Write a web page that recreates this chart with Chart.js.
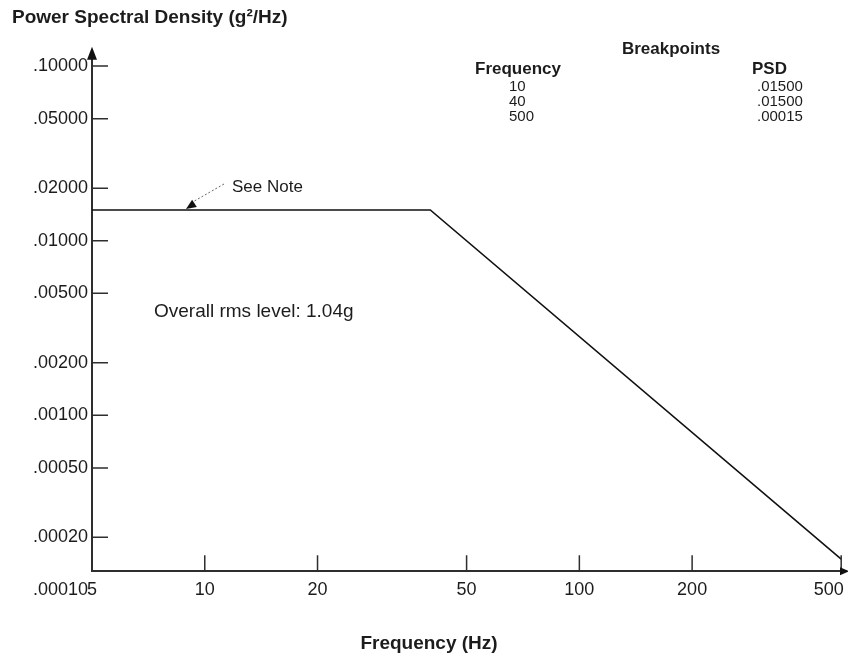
<!DOCTYPE html>
<html>
<head>
<meta charset="utf-8">
<title>Power Spectral Density</title>
<script src="https://cdn.jsdelivr.net/npm/chart.js@4/dist/chart.umd.min.js"></script>
<style>
  body { margin: 0; background: #fff; }
  #wrap { width: 848px; height: 656px; }
</style>
</head>
<body>
<div id="wrap"><canvas id="canvas" width="848" height="656"></canvas></div>
<script>
// spectrum line: starts at the axis (5 Hz), flat to 40 Hz, then rolls off to 500 Hz
const lineFreq = [5, 40, 500];
const linePsd = [0.015, 0.015, 0.00015];

// axis ticks
const xTicks = [5, 10, 20, 50, 100, 200, 500];
const yTicks = [0.1, 0.05, 0.02, 0.01, 0.005, 0.002, 0.001, 0.0005, 0.0002, 0.0001];

// breakpoint table in the top right corner
const tableFreq = ['10', '40', '500'];
const tablePsd = ['.01500', '.01500', '.00015'];

const fontFamily = '"Liberation Sans", Arial, sans-serif';
const axisColor = '#2e2e2e';
const textColor = '#1c1c1c';

Chart.defaults.font.family = fontFamily;

const axisDecor = {
    id: 'axisDecor',
    afterDraw(chart) {
        const ctx = chart.ctx;
        const a = chart.chartArea;
        const x = chart.scales.x;
        const y = chart.scales.y;

        ctx.save();

        // tick marks point inside the plot
        ctx.strokeStyle = axisColor;
        ctx.lineWidth = 1.5;
        ctx.beginPath();
        xTicks.forEach(v => {
            if (v <= x.min) return;
            const px = x.getPixelForValue(v);
            ctx.moveTo(px, a.bottom);
            ctx.lineTo(px, a.bottom - 16);
        });
        yTicks.forEach(v => {
            if (v <= y.min || v > y.max) return;
            const py = y.getPixelForValue(v);
            ctx.moveTo(a.left, py);
            ctx.lineTo(a.left + 16, py);
        });
        ctx.stroke();

        // arrow heads on the axes
        ctx.fillStyle = '#111';
        ctx.beginPath();
        ctx.moveTo(a.left, a.top - 3);
        ctx.lineTo(a.left - 5, a.top + 10);
        ctx.lineTo(a.left + 5, a.top + 10);
        ctx.closePath();
        ctx.moveTo(a.right + 3, a.bottom);
        ctx.lineTo(a.right - 6, a.bottom - 4);
        ctx.lineTo(a.right - 6, a.bottom + 4);
        ctx.closePath();
        ctx.fill();

        // "See Note" with dotted pointer to the flat part of the line
        const tipX = 186;
        const tipY = y.getPixelForValue(linePsd[0]) - 1;
        ctx.fillStyle = textColor;
        ctx.font = '17px ' + fontFamily;
        ctx.textBaseline = 'middle';
        ctx.textAlign = 'left';
        ctx.fillText('See Note', 232, 187);

        ctx.strokeStyle = '#666';
        ctx.lineWidth = 1;
        ctx.setLineDash([2, 2]);
        ctx.beginPath();
        ctx.moveTo(224, 184);
        ctx.lineTo(tipX + 5, tipY - 6);
        ctx.stroke();
        ctx.setLineDash([]);

        const ang = Math.atan2(tipY - 184, tipX - 224);
        ctx.fillStyle = '#111';
        ctx.beginPath();
        ctx.moveTo(tipX, tipY);
        ctx.lineTo(tipX - 11 * Math.cos(ang - 0.4), tipY - 11 * Math.sin(ang - 0.4));
        ctx.lineTo(tipX - 11 * Math.cos(ang + 0.4), tipY - 11 * Math.sin(ang + 0.4));
        ctx.closePath();
        ctx.fill();

        ctx.fillStyle = textColor;
        ctx.font = '19px ' + fontFamily;
        ctx.fillText('Overall rms level: 1.04g', 154, 312);

        // breakpoint table
        ctx.font = 'bold 17px ' + fontFamily;
        ctx.textAlign = 'center';
        ctx.fillText('Breakpoints', 671, 49);
        ctx.textAlign = 'left';
        ctx.fillText('Frequency', 475, 69);
        ctx.fillText('PSD', 752, 69);
        ctx.font = '15px ' + fontFamily;
        tableFreq.forEach((f, i) => ctx.fillText(f, 509, 87 + i * 15));
        tablePsd.forEach((p, i) => ctx.fillText(p, 757, 87 + i * 15));

        ctx.restore();
    }
};

new Chart(document.getElementById('canvas'), {
    type: 'line',
    data: {
        datasets: [{
            data: lineFreq.map((f, i) => ({ x: f, y: linePsd[i] })),
            borderColor: '#111',
            borderWidth: 1.6,
            pointRadius: 0,
            fill: false,
            tension: 0
        }]
    },
    options: {
        responsive: false,
        animation: false,
        layout: { padding: { left: 12, right: 2, top: 0, bottom: 0 } },
        plugins: {
            legend: { display: false },
            tooltip: { enabled: false },
            title: {
                display: true,
                text: 'Power Spectral Density (g\u00B2/Hz)',
                align: 'start',
                color: textColor,
                font: { size: 19, weight: 'bold' },
                padding: { top: 6, bottom: 21 }
            },
            subtitle: {
                display: true,
                position: 'bottom',
                text: 'Frequency (Hz)',
                color: textColor,
                font: { size: 19, weight: 'bold' },
                padding: { top: 21, bottom: 1 }
            }
        },
        scales: {
            x: {
                type: 'logarithmic',
                min: 5,
                max: 515,
                afterBuildTicks: s => { s.ticks = xTicks.map(v => ({ value: v })); },
                afterFit: s => { s.height = 40; s.paddingLeft = 0; s.paddingRight = 0; },
                grid: { display: false, drawTicks: false },
                border: { color: axisColor, width: 2 },
                ticks: {
                    autoSkip: false,
                    maxRotation: 0,
                    padding: 8,
                    color: textColor,
                    font: { size: 18 },
                    // the last label sits left of its tick in the original, pad it so it stays on the page
                    callback: v => v === 500 ? '500     ' : String(v)
                }
            },
            y: {
                type: 'logarithmic',
                min: 0.000128,
                max: 0.124,
                afterBuildTicks: s => { s.ticks = yTicks.map(v => ({ value: v })); },
                afterFit: s => { s.width = 80; s.paddingTop = 0; s.paddingBottom = 0; },
                grid: { display: false, drawTicks: false },
                border: { color: axisColor, width: 2 },
                ticks: {
                    autoSkip: false,
                    padding: 4,
                    color: textColor,
                    font: { size: 18 },
                    callback: v => v.toFixed(5).replace(/^0/, '')
                }
            }
        }
    },
    plugins: [axisDecor]
});
</script>
</body>
</html>
